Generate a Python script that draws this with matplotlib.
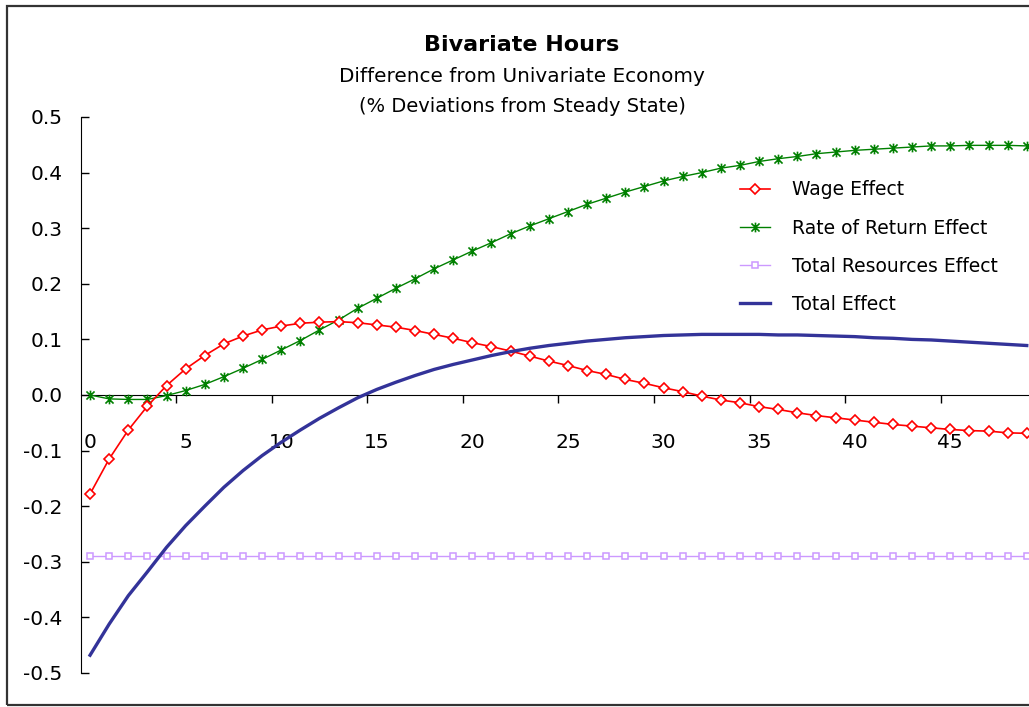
import numpy as np
import matplotlib
matplotlib.use("Agg")
import matplotlib.pyplot as plt
from matplotlib.path import Path
from matplotlib.patches import Rectangle

# periods after the shock
periods = list(range(50))

wage_effect = [-0.178, -0.115, -0.063, -0.020, 0.017, 0.047, 0.071, 0.092, 0.106, 0.117,
               0.124, 0.129, 0.131, 0.132, 0.130, 0.126, 0.122, 0.116, 0.109, 0.102,
               0.094, 0.087, 0.079, 0.070, 0.061, 0.053, 0.044, 0.037, 0.028, 0.021,
               0.013, 0.006, -0.002, -0.009, -0.014, -0.021, -0.026, -0.032, -0.037, -0.041,
               -0.045, -0.049, -0.053, -0.056, -0.059, -0.062, -0.064, -0.065, -0.068, -0.069]

return_effect = [0.000, -0.007, -0.008, -0.008, -0.001, 0.008, 0.019, 0.033, 0.048, 0.064,
                 0.081, 0.098, 0.117, 0.135, 0.156, 0.174, 0.192, 0.209, 0.227, 0.243,
                 0.259, 0.274, 0.290, 0.304, 0.317, 0.330, 0.343, 0.354, 0.365, 0.375,
                 0.385, 0.393, 0.400, 0.408, 0.413, 0.420, 0.425, 0.429, 0.434, 0.437,
                 0.440, 0.442, 0.444, 0.446, 0.448, 0.448, 0.449, 0.449, 0.449, 0.448]

resources_effect = [-0.29] * 50

total_effect = [-0.468, -0.412, -0.361, -0.318, -0.274, -0.235, -0.200, -0.166, -0.136, -0.109,
                -0.085, -0.063, -0.042, -0.023, -0.005, 0.010, 0.023, 0.035, 0.046, 0.055,
                0.063, 0.071, 0.078, 0.084, 0.089, 0.093, 0.097, 0.100, 0.103, 0.105,
                0.107, 0.108, 0.109, 0.109, 0.109, 0.109, 0.108, 0.108, 0.107, 0.106,
                0.105, 0.103, 0.102, 0.100, 0.099, 0.097, 0.095, 0.093, 0.091, 0.089]

y_ticks = [0.5, 0.4, 0.3, 0.2, 0.1, 0.0, -0.1, -0.2, -0.3, -0.4, -0.5]
y_labels = ["0.5", "0.4", "0.3", "0.2", "0.1", "0.0", "-0.1", "-0.2", "-0.3", "-0.4", "-0.5"]
x_labels = ["0", "5", "10", "15", "20", "25", "30", "35", "40", "45"]

plt.rcParams["font.family"] = "DejaVu Sans"

fig = plt.figure(figsize=(10.29, 7.07), dpi=100)
ax = fig.add_axes([80.5 / 1029, 34 / 707, 955.8 / 1029, 556 / 707])

# excel style star: an x with a vertical bar
star = Path([(-1, -1), (1, 1), (-1, 1), (1, -1), (0, -1.2), (0, 1.2)],
            [Path.MOVETO, Path.LINETO, Path.MOVETO, Path.LINETO, Path.MOVETO, Path.LINETO])

ax.plot(periods, wage_effect, color="#ff0000", lw=1.2, marker="D", ms=5,
        mfc="white", mec="#ff0000", mew=1.2, label="Wage Effect", zorder=4)
ax.plot(periods, return_effect, color="#008000", lw=1.0, marker=star, ms=7,
        mec="#008000", mew=1.2, label="Rate of Return Effect", zorder=3)
ax.plot(periods, resources_effect, color="#cc99ff", lw=1.0, marker="s", ms=5,
        mfc="white", mec="#cc99ff", mew=1.1, label="Total Resources Effect", zorder=3)
ax.plot(periods, total_effect, color="#333399", lw=2.4, label="Total Effect", zorder=5)

ax.set_xlim(-0.5, 49.5)
ax.set_ylim(-0.5, 0.5)

for s in ["top", "right"]:
    ax.spines[s].set_visible(False)
ax.spines["bottom"].set_position(("data", 0))
ax.spines["left"].set_color("#000000")
ax.spines["bottom"].set_color("#000000")

ax.set_yticks(y_ticks)
ax.set_yticklabels(y_labels)
ax.tick_params(axis="y", direction="in", length=6, width=1, pad=13, labelsize=14.5)

# tick marks between categories, labels on the categories
ax.set_xticks([4.5 + 5 * k for k in range(9)])
ax.set_xticklabels([])
ax.tick_params(axis="x", which="major", direction="out", length=6, width=1)
ax.set_xticks([int(v) for v in x_labels], minor=True)
ax.set_xticklabels(x_labels, minor=True)
ax.tick_params(axis="x", which="minor", length=0, pad=27, labelsize=14.5)

ax.legend(loc="upper left", bbox_to_anchor=(731 / 1029, 1 - 171 / 707),
          bbox_transform=fig.transFigure, frameon=False, fontsize=13.5,
          handlelength=1.6, handletextpad=1.17, labelspacing=1.02, borderpad=0)

fig.text(522 / 1029, 1 - 45 / 707, "Bivariate Hours", ha="center", va="center",
         fontsize=16, fontweight="bold")
fig.text(522 / 1029, 1 - 76 / 707, "Difference from Univariate Economy", ha="center",
         va="center", fontsize=14.4)
fig.text(522 / 1029, 1 - 106 / 707, "(% Deviations from Steady State)", ha="center",
         va="center", fontsize=14)

# outer chart frame (right side cut off)
fig.patches.append(Rectangle((7 / 1029, 2 / 707), 1.2, 699 / 707, transform=fig.transFigure,
                             fill=False, edgecolor="#333333", lw=1.6))

fig.savefig("out.png", dpi=100)
